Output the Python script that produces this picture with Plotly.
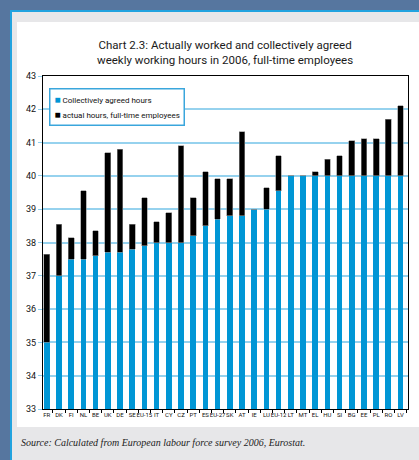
import plotly.graph_objects as go

# Countries / aggregates, ordered by collectively agreed hours
countries = ["FR", "DK", "FI", "NL", "BE", "UK", "DE", "SE", "EU-15", "IT",
             "CY", "CZ", "PT", "ES", "EU-27", "SK", "AT", "IE", "LU", "EU-12",
             "LT", "MT", "EL", "HU", "SI", "BG", "EE", "PL", "RO", "LV"]

# Collectively agreed weekly hours
agreed = [35.0, 37.0, 37.5, 37.5, 37.6, 37.7, 37.7, 37.8, 37.9, 38.0,
          38.0, 38.0, 38.2, 38.5, 38.7, 38.8, 38.8, 39.0, 39.0, 39.55,
          40.0, 40.0, 40.0, 40.0, 40.0, 40.0, 40.0, 40.0, 40.0, 40.0]

# Actual weekly hours worked, full-time employees
actual = [37.65, 38.55, 38.15, 39.55, 38.35, 40.7, 40.8, 38.55, 39.35, 38.62,
          38.9, 40.9, 39.35, 40.13, 39.92, 39.92, 41.32, 39.0, 39.64, 40.6,
          40.0, 40.0, 40.12, 40.5, 40.6, 41.05, 41.12, 41.12, 41.7, 42.1]

y_ticks = [33, 34, 35, 36, 37, 38, 39, 40, 41, 42, 43]

legend_labels = ["Collectively agreed hours", "actual hours, full-time employees"]

BLUE = "#0096d5"
W, H = 419, 460
L, R, T, B = 43, 11, 76, 51
PW, PH = W - L - R, H - T - B

NARROW = "Liberation Sans Narrow, Arial Narrow, Roboto, Liberation Sans, sans-serif"


def px(x):
    return (x - L) / PW


def py(y):
    return (H - B - y) / PH


extra = [a - g for a, g in zip(actual, agreed)]

fig = go.Figure()
fig.add_trace(go.Bar(x=countries, y=agreed, marker=dict(color=BLUE, line=dict(width=0)),
                     width=0.47, name=legend_labels[0], showlegend=False))
fig.add_trace(go.Bar(x=countries, y=extra, marker=dict(color="black", line=dict(color="#8a8a8a", width=0.6)),
                     width=0.47, name=legend_labels[1], showlegend=False))

shapes = [
    # page frame: cyan rule, grey mat, white panel
    dict(type="rect", xref="paper", yref="paper", x0=px(10), x1=px(430), y0=py(10), y1=py(470),
         fillcolor="#22a3df", line=dict(width=0), layer="below"),
    dict(type="rect", xref="paper", yref="paper", x0=px(12), x1=px(430), y0=py(12), y1=py(470),
         fillcolor="#e7e7e9", line=dict(width=0), layer="below"),
    dict(type="rect", xref="paper", yref="paper", x0=px(17), x1=px(430), y0=py(22), y1=py(427),
         fillcolor="white", line=dict(width=0), layer="below"),
]


def legend_row(color, label):
    return (f"<span style='color:{color};font-size:10px'>■</span>"
            f"<span style='font-size:8px'> {label}</span>")


legend_text = "<br>".join([legend_row(BLUE, legend_labels[0]), legend_row("black", legend_labels[1])])

annotations = [
    dict(text="Chart 2.3: Actually worked and collectively agreed<br>weekly working hours in 2006, full-time employees",
         xref="paper", yref="paper", x=px(225), y=py(53), xanchor="center", yanchor="middle",
         showarrow=False, align="center", font=dict(family=NARROW, size=11.5, color="#1a1a1a")),
    # legend box
    dict(text=legend_text, xref="paper", yref="paper", x=px(49), y=py(88),
         xanchor="left", yanchor="top", align="left", showarrow=False,
         bgcolor="white", bordercolor="#3aa6dc", borderwidth=1.5, borderpad=4,
         font=dict(family=NARROW, size=12, color="#111")),
    dict(text="<i>Source: Calculated from European labour force survey 2006, Eurostat.</i>",
         xref="paper", yref="paper", x=px(19), y=py(442), xanchor="left", yanchor="middle",
         showarrow=False, font=dict(family="Liberation Serif, DejaVu Serif, serif", size=10, color="#222")),
]

fig.update_layout(
    width=W, height=H,
    margin=dict(l=L, r=R, t=T, b=B, pad=0),
    paper_bgcolor="#56769f",
    plot_bgcolor="rgba(0,0,0,0)",
    barmode="stack",
    bargap=0.5,
    showlegend=False,
    shapes=shapes,
    annotations=annotations,
    xaxis=dict(
        type="category", range=[-0.31, 29.61], tickangle=0,
        showline=True, linecolor="black", linewidth=1, mirror=True,
        ticks="outside", tickson="boundaries", ticklen=3, tickcolor="black",
        tickfont=dict(family=NARROW, size=6, color="#111"),
        showgrid=False, zeroline=False,
    ),
    yaxis=dict(
        range=[33, 43], tickvals=y_ticks, ticktext=[str(v) for v in y_ticks],
        showline=True, linecolor="black", linewidth=1, mirror=True,
        ticks="outside", ticklen=4, tickcolor="#8fd0ee",
        tickfont=dict(family=NARROW, size=9, color="#111"),
        showgrid=True, gridcolor="#96d2ee", gridwidth=1.5, zeroline=False,
    ),
)

fig.write_html("out.html")
